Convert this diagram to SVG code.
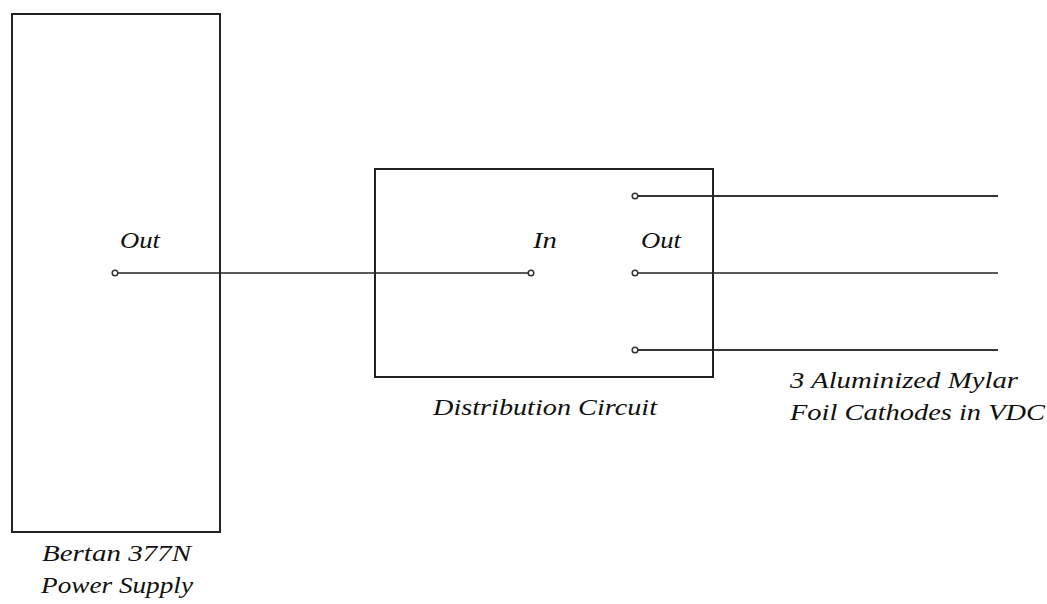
<svg xmlns="http://www.w3.org/2000/svg" width="1047" height="604" viewBox="0 0 1047 604">
  <style>
    .box { fill: none; stroke: #222; stroke-width: 2; }
    .wire { fill: none; stroke: #222; stroke-width: 1.3; }
    .wire-bold { fill: none; stroke: #333; stroke-width: 2.2; }
    .pin { fill: #fff; stroke: #333; stroke-width: 1.5; }
    text { font-family: "Liberation Serif", "DejaVu Serif", serif; font-style: italic; font-size: 24px; fill: #111; }
  </style>
  <rect width="1047" height="604" fill="#fff"/>

  <!-- connectors -->
  <g id="connectors">
    <line class="wire" x1="115" y1="273" x2="531" y2="273"/>
    <line class="wire-bold" x1="635" y1="196" x2="998" y2="196"/>
    <line class="wire" x1="635" y1="273" x2="998" y2="273"/>
    <line class="wire-bold" x1="635" y1="350" x2="998" y2="350"/>
  </g>

  <!-- power supply -->
  <g id="power-supply">
    <rect class="box" x="12" y="14" width="208" height="518"/>
    <text x="120" y="248" textLength="40" lengthAdjust="spacingAndGlyphs">Out</text>
    <circle class="pin" cx="115" cy="273" r="2.8"/>
    <text x="42" y="561" textLength="149" lengthAdjust="spacingAndGlyphs">Bertan 377N</text>
    <text x="41" y="593" textLength="152" lengthAdjust="spacingAndGlyphs">Power Supply</text>
  </g>

  <!-- distribution circuit -->
  <g id="distribution-circuit">
    <rect class="box" x="375" y="169" width="338" height="208"/>
    <text x="533" y="248" textLength="24" lengthAdjust="spacingAndGlyphs">In</text>
    <text x="641" y="248" textLength="40" lengthAdjust="spacingAndGlyphs">Out</text>
    <circle class="pin" cx="531" cy="273" r="2.8"/>
    <circle class="pin" cx="635" cy="196" r="2.8"/>
    <circle class="pin" cx="635" cy="273" r="2.8"/>
    <circle class="pin" cx="635" cy="350" r="2.8"/>
    <text x="433" y="415" textLength="224" lengthAdjust="spacingAndGlyphs">Distribution Circuit</text>
  </g>

  <!-- cathodes -->
  <g id="cathodes">
    <text x="790" y="388" textLength="228" lengthAdjust="spacingAndGlyphs">3 Aluminized Mylar</text>
    <text x="790" y="420" textLength="255" lengthAdjust="spacingAndGlyphs">Foil Cathodes in VDC</text>
  </g>
</svg>
